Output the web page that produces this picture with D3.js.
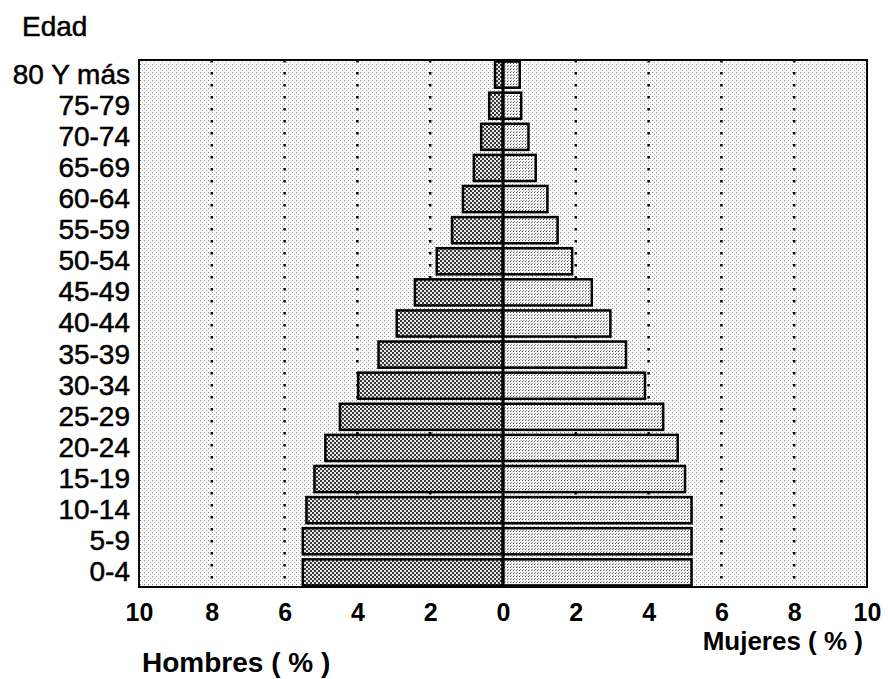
<!DOCTYPE html>
<html>
<head>
<meta charset="utf-8">
<script src="https://cdn.jsdelivr.net/npm/d3@7"></script>
<style>
  body { margin: 0; background: #fff; }
  svg { display: block; font-family: "Liberation Sans", Arial, sans-serif; }
</style>
</head>
<body>
<div id="chart"></div>
<script>
// Grupos de edad (de arriba a abajo)
const ageGroups = ['80 Y más', '75-79', '70-74', '65-69', '60-64', '55-59', '50-54', '45-49',
  '40-44', '35-39', '30-34', '25-29', '20-24', '15-19', '10-14', '5-9', '0-4'];

// Porcentajes
const hombres = [0.22, 0.38, 0.6, 0.8, 1.1, 1.4, 1.82, 2.42, 2.92, 3.42, 3.98, 4.48, 4.88, 5.18, 5.4, 5.5, 5.5];
const mujeres = [0.46, 0.5, 0.7, 0.9, 1.22, 1.5, 1.9, 2.44, 2.95, 3.38, 3.9, 4.4, 4.8, 5.0, 5.18, 5.18, 5.18];

const tickValues = [-10, -8, -6, -4, -2, 0, 2, 4, 6, 8, 10];

const width = 888, height = 679;
const plot = { left: 139, right: 867, top: 60, bottom: 587 };

const svg = d3.select('#chart').append('svg')
  .attr('width', width)
  .attr('height', height);

// Texturas tipo impresión
const defs = svg.append('defs');
const bgPat = defs.append('pattern').attr('id', 'bg-dots')
  .attr('width', 4).attr('height', 4).attr('patternUnits', 'userSpaceOnUse');
bgPat.append('rect').attr('width', 4).attr('height', 4).attr('fill', '#fbfbfb');
bgPat.append('rect').attr('x', 0).attr('y', 0).attr('width', 1).attr('height', 1).attr('fill', '#8a8a8a');
bgPat.append('rect').attr('x', 2).attr('y', 2).attr('width', 1).attr('height', 1).attr('fill', '#b0b0b0');

const malePat = defs.append('pattern').attr('id', 'male-fill')
  .attr('width', 4).attr('height', 4).attr('patternUnits', 'userSpaceOnUse');
malePat.append('rect').attr('width', 4).attr('height', 4).attr('fill', '#e8e8e8');
malePat.append('rect').attr('x', 0).attr('y', 0).attr('width', 2).attr('height', 2).attr('fill', '#3a3a3a');
malePat.append('rect').attr('x', 2).attr('y', 2).attr('width', 2).attr('height', 2).attr('fill', '#3a3a3a');

const femalePat = defs.append('pattern').attr('id', 'female-fill')
  .attr('width', 3).attr('height', 3).attr('patternUnits', 'userSpaceOnUse');
femalePat.append('rect').attr('width', 3).attr('height', 3).attr('fill', '#f4f4f4');
femalePat.append('rect').attr('x', 0).attr('y', 0).attr('width', 1).attr('height', 1).attr('fill', '#555');
femalePat.append('rect').attr('x', 1).attr('y', 2).attr('width', 1).attr('height', 1).attr('fill', '#999');

// Escalas
const x = d3.scaleLinear().domain([-10, 10]).range([plot.left, plot.right]);
const y = d3.scaleBand().domain(ageGroups).range([plot.top, plot.bottom]).paddingInner(0.16).paddingOuter(0.05);

// Fondo
svg.append('rect')
  .attr('x', plot.left).attr('y', plot.top)
  .attr('width', plot.right - plot.left).attr('height', plot.bottom - plot.top)
  .attr('fill', 'url(#bg-dots)');

// Líneas de cuadrícula punteadas
svg.append('g').selectAll('line')
  .data(tickValues.filter(d => Math.abs(d) !== 10 && d !== 0))
  .join('line')
  .attr('x1', d => x(d)).attr('x2', d => x(d))
  .attr('y1', plot.top).attr('y2', plot.bottom)
  .attr('stroke', '#000')
  .attr('stroke-width', 2.5)
  .attr('stroke-dasharray', '2.5 9.5');

// Barras hombres
svg.append('g').selectAll('rect')
  .data(ageGroups.map((g, i) => ({ g, v: hombres[i] })))
  .join('rect')
  .attr('x', d => x(-d.v))
  .attr('y', d => y(d.g))
  .attr('width', d => x(0) - x(-d.v))
  .attr('height', y.bandwidth())
  .attr('fill', 'url(#male-fill)')
  .attr('stroke', '#000')
  .attr('stroke-width', 2.5);

// Barras mujeres
svg.append('g').selectAll('rect')
  .data(ageGroups.map((g, i) => ({ g, v: mujeres[i] })))
  .join('rect')
  .attr('x', x(0))
  .attr('y', d => y(d.g))
  .attr('width', d => x(d.v) - x(0))
  .attr('height', y.bandwidth())
  .attr('fill', 'url(#female-fill)')
  .attr('stroke', '#000')
  .attr('stroke-width', 2.5);

// Línea central
svg.append('line')
  .attr('x1', x(0)).attr('x2', x(0))
  .attr('y1', plot.top).attr('y2', plot.bottom)
  .attr('stroke', '#000').attr('stroke-width', 3);

// Marco
svg.append('rect')
  .attr('x', plot.left).attr('y', plot.top)
  .attr('width', plot.right - plot.left).attr('height', plot.bottom - plot.top)
  .attr('fill', 'none').attr('stroke', '#000').attr('stroke-width', 2);

// Eje X
const xAxis = svg.append('g')
  .attr('transform', `translate(0,${plot.bottom})`)
  .call(d3.axisBottom(x).tickValues(tickValues).tickSize(0).tickPadding(16).tickFormat(d => Math.abs(d)));
xAxis.select('.domain').remove();
xAxis.selectAll('text')
  .attr('fill', '#000')
  .style('font-size', '25px')
  .style('font-weight', 'bold')
  .style('font-family', '"Liberation Sans", Arial, sans-serif');

// Eje Y
const yAxis = svg.append('g')
  .attr('transform', `translate(${plot.left},0)`)
  .call(d3.axisLeft(y).tickSize(0).tickPadding(9));
yAxis.select('.domain').remove();
yAxis.selectAll('text')
  .attr('fill', '#000')
  .attr('stroke', '#000')
  .attr('stroke-width', 0.5)
  .style('font-size', '28px')
  .style('font-family', '"Liberation Sans", Arial, sans-serif');

// Títulos
svg.append('text')
  .attr('x', 22).attr('y', 36)
  .attr('stroke', '#000').attr('stroke-width', 0.5)
  .style('font-size', '28px')
  .text('Edad');

svg.append('text')
  .attr('x', 142).attr('y', 672)
  .style('font-size', '28px')
  .style('font-weight', 'bold')
  .text('Hombres ( % )');

svg.append('text')
  .attr('x', 863).attr('y', 650)
  .attr('text-anchor', 'end')
  .style('font-size', '26px')
  .style('font-weight', 'bold')
  .text('Mujeres ( % )');
</script>
</body>
</html>
